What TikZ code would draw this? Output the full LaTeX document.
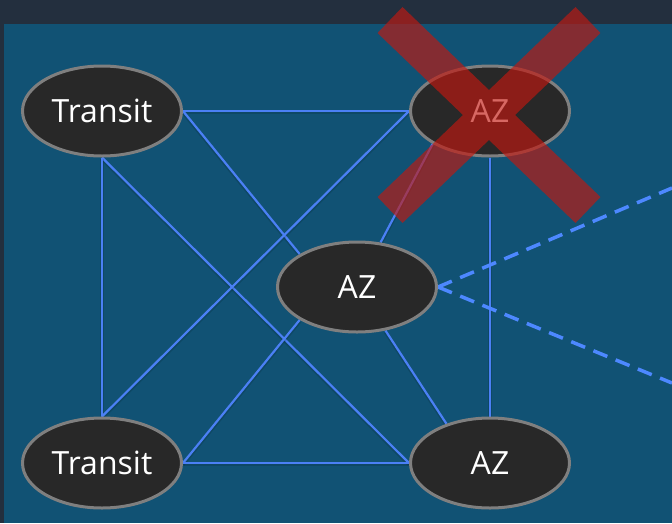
\documentclass[tikz,border=0pt]{standalone}
\usepackage{fontspec}
\setmainfont{Open Sans}
\usetikzlibrary{shapes.geometric}
\definecolor{bgdark}{HTML}{232F3E}
\definecolor{panel}{HTML}{115274}
\definecolor{nodefill}{HTML}{282828}
\definecolor{nodeedge}{HTML}{7F7F7F}
\definecolor{lineblue}{HTML}{4B80F5}
\definecolor{dashblue}{HTML}{4D88FF}
\definecolor{xred}{RGB}{195,24,16}
\pgfdeclarelayer{backdrop}
\pgfdeclarelayer{wires}
\pgfsetlayers{backdrop,wires,main}
\tikzset{
  zone/.style={ellipse, draw=nodeedge, fill=nodefill, line width=3pt,
    minimum width=159pt, minimum height=90pt, inner sep=0pt,
    text=white, font=\fontsize{32}{38}\selectfont},
  link/.style={draw=lineblue, line width=2.2pt,
    preaction={draw=black, draw opacity=0.12, line width=3.5pt, transform canvas={yshift=-1.5pt}}},
  dashlink/.style={draw=dashblue, line width=3.5pt, dash pattern=on 15pt off 9pt},
  crossbar/.style={draw=xred, line width=36pt}
}
\begin{document}
\begin{tikzpicture}[x=1pt,y=-1pt]
\begin{pgfonlayer}{backdrop}
\fill[bgdark] (0,0) rectangle (672,523);
\fill[panel] (4,24) rectangle (672,523);
\end{pgfonlayer}
\useasboundingbox (0,0) rectangle (672,523);
\node[zone] (tl) at (102,111) {Transit};
\node[zone] (tr) at (490,111) {AZ};
\node[zone] (c)  at (357,287) {AZ};
\node[zone] (bl) at (102,463) {Transit};
\node[zone] (br) at (490,463) {AZ};
\coordinate (d1) at (672,188);
\coordinate (d2) at (672,383);
\begin{pgfonlayer}{wires}
\path[link] (tl.east) -- (tr.west);
\path[link] (tl.east) -- (c.north west);
\path[link] (tl.south) -- (br.west);
\path[link] (tl.south) -- (bl.north);
\path[link] (tr.west) -- (bl.north);
\path[link] (tr.south west) -- (c);
\path[link] (tr.south) -- (br.north);
\path[link] (bl.east) -- (c.south west);
\path[link] (br.138) -- (c);
\path[link] (bl.east) -- (br.west);
\path[dashlink] (c.east) -- (d1);
\path[dashlink] (c.east) -- (d2);
\end{pgfonlayer}
\begin{scope}
\clip (0,0) rectangle (672,523);
\begin{scope}[transparency group, opacity=0.65]
\path[crossbar] (390,20) -- (588,210);
\path[crossbar] (588,20) -- (390,210);
\end{scope}
\end{scope}
\end{tikzpicture}
\end{document}
